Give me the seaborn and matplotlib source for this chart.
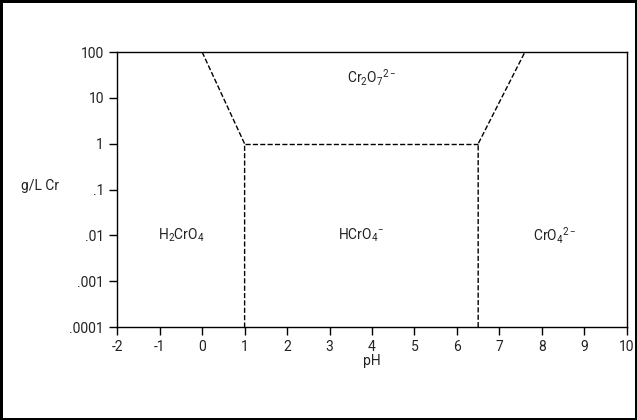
import matplotlib
matplotlib.use("Agg")
import matplotlib.pyplot as plt
import seaborn as sns

sns.set_style("ticks")
plt.rcParams['font.family'] = ['Liberation Sans Narrow', 'Roboto', 'DejaVu Sans']
plt.rcParams['mathtext.fontset'] = 'custom'
plt.rcParams['mathtext.rm'] = 'Roboto'
plt.rcParams['axes.unicode_minus'] = False
plt.rcParams['text.color'] = '#222222'

# boundary lines (pH, g/L Cr)
left_x = [0, 1, 1]
left_y = [100, 1, 0.0001]
mid_x = [1, 6.5]
mid_y = [1, 1]
right_x = [6.5, 6.5, 7.6]
right_y = [0.0001, 1, 100]

yticks = [0.0001, 0.001, 0.01, 0.1, 1, 10, 100]
ylabels = ['.0001', '.001', '.01', '.1', '1', '10', '100']
xticks = list(range(-2, 11))

species = [r'H$_2$CrO$_4$', r'HCrO$_4$$^{-}$', r'CrO$_4$$^{2-}$', r'Cr$_2$O$_7$$^{2-}$']
species_x = [-0.5, 3.75, 8.3, 4.0]
species_y = [0.01, 0.01, 0.01, 28]

fig = plt.figure(figsize=(6.37, 4.2), dpi=100)
fig.patch.set_edgecolor('black')
fig.patch.set_linewidth(2.5)
ax = fig.add_axes([0.184, 0.221, 0.8, 0.655])
for xs, ys in [(left_x, left_y), (mid_x, mid_y), (right_x, right_y)]:
    sns.lineplot(x=xs, y=ys, ax=ax, color='black', linestyle='--', linewidth=1, sort=False, estimator=None)
ax.set_yscale('log')
ax.set_xlim(-2, 10)
ax.set_ylim(0.0001, 100)
ax.set_yticks(yticks)
ax.set_yticklabels(ylabels)
ax.minorticks_off()
ax.set_xticks(xticks)
ax.tick_params(labelsize=10, length=6, width=1, direction='out', colors='black', labelcolor='#222222')
for s in ax.spines.values():
    s.set_visible(True)
    s.set_linewidth(1)
    s.set_color('black')
ax.set_xlabel('pH', fontsize=10, color='#222222', labelpad=0)
ax.set_ylabel('')
fig.text(40 / 637, 1 - 186 / 420, 'g/L Cr', fontsize=10, ha='center', va='center')
for t, x, y in zip(species, species_x, species_y):
    ax.text(x, y, t, fontsize=10, ha='center', va='center')
fig.savefig('out.png', dpi=100, edgecolor=fig.get_edgecolor())
